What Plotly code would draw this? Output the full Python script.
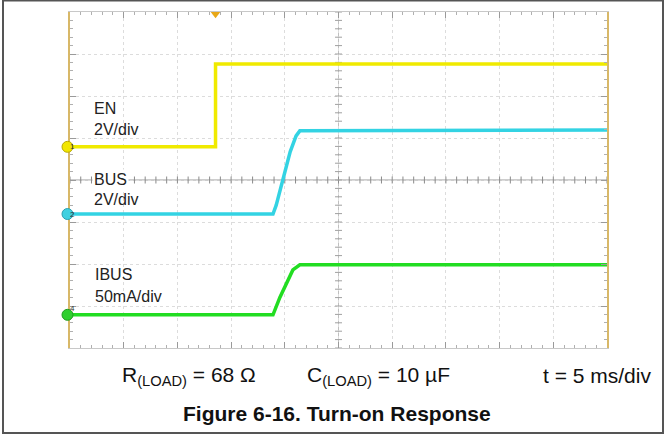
import numpy as np
import plotly.graph_objects as go

# ---- data (time in divisions, 5 ms/div; amplitude in screen divisions) ----
en_t = [0.0, 2.71, 2.71, 10.0]
en_v = [4.79, 4.79, 6.76, 6.76]

bus_t = [0.0, 3.78, 3.84, 3.95, 4.10, 4.21, 4.28, 10.0]
bus_v = [3.19, 3.19, 3.40, 3.95, 4.67, 5.05, 5.17, 5.19]

ibus_t = [0.0, 3.78, 3.91, 4.04, 4.15, 4.28, 10.0]
ibus_v = [0.79, 0.79, 1.21, 1.57, 1.86, 1.98, 1.98]

channel_labels = ["1", "2", "4"]
channel_levels = [4.79, 3.19, 0.79]
channel_colors = ["#f2e600", "#3fd0e0", "#2fcf2f"]
channel_edges = ["#b8a800", "#2a9fb0", "#1f9a1f"]

Y_MIN, Y_MAX = 0, 8

W, H = 665, 434
L, R, T, B = 70, 58, 12, 86
PW, PH = W - L - R, H - T - B

def px_x(px):
    return (px - L) / PW

def px_y(py):
    return (H - B - py) / PH

FONT = "Arial, Liberation Sans, sans-serif"

fig = go.Figure()

# center cross-hair ticks
minor_pos_x = np.round(np.arange(0, 10.001, 0.2), 3)
minor_pos_y = np.round(np.arange(0, 8.001, 0.2), 3)
fig.add_trace(go.Scatter(x=minor_pos_x, y=[4] * len(minor_pos_x), mode="markers",
                         marker=dict(symbol="line-ns-open", size=5, color="#8a8a8a",
                                     line=dict(color="#8a8a8a", width=1)),
                         hoverinfo="skip", showlegend=False))
fig.add_trace(go.Scatter(x=[5] * len(minor_pos_y), y=minor_pos_y, mode="markers",
                         marker=dict(symbol="line-ew-open", size=5, color="#a0a0a0",
                                     line=dict(color="#a0a0a0", width=1)),
                         hoverinfo="skip", showlegend=False))

# waveforms
fig.add_trace(go.Scatter(x=en_t, y=en_v, mode="lines", line=dict(color="#f0ea00", width=3.5),
                         hoverinfo="skip", showlegend=False))
fig.add_trace(go.Scatter(x=bus_t, y=bus_v, mode="lines", line=dict(color="#33d3e3", width=3.5),
                         hoverinfo="skip", showlegend=False))
fig.add_trace(go.Scatter(x=ibus_t, y=ibus_v, mode="lines", line=dict(color="#22dd22", width=3.5),
                         hoverinfo="skip", showlegend=False))

# trigger marker at top
fig.add_trace(go.Scatter(x=[en_t[1]], y=[7.96], mode="markers",
                         marker=dict(symbol="triangle-down", size=9, color="#e8a818"),
                         cliponaxis=False, hoverinfo="skip", showlegend=False))

axis_common = dict(showticklabels=False, zeroline=False, showgrid=True,
                   gridcolor="#dcdcdc", griddash="dot", gridwidth=1,
                   ticks="inside", ticklen=6, tickcolor="#9a9a9a", dtick=1, tick0=0,
                   minor=dict(dtick=0.2, ticks="inside", ticklen=3, tickcolor="#b0b0b0", showgrid=False),
                   fixedrange=True)

fig.update_layout(
    width=W, height=H,
    margin=dict(l=L, r=R, t=T, b=B),
    paper_bgcolor="white", plot_bgcolor="white",
    xaxis=dict(range=[0, 10], showline=True, linecolor="#c8c8c8", linewidth=1, mirror="allticks", **axis_common),
    yaxis=dict(range=[Y_MIN, Y_MAX], showline=True, linecolor="#d8b868", linewidth=2, mirror="allticks", **axis_common),
    font=dict(family=FONT, color="#222"),
)

# center cross lines
fig.add_shape(type="line", x0=0, x1=10, y0=4, y1=4, xref="x", yref="y", line=dict(color="#9a9a9a", width=1), layer="below")
fig.add_shape(type="line", x0=5, x1=5, y0=0, y1=8, xref="x", yref="y", line=dict(color="#c0c0c0", width=1, dash="dot"), layer="below")

# channel markers (circles at left edge)
for lbl, lvl, col, edge in zip(channel_labels, channel_levels, channel_colors, channel_edges):
    yp = (lvl - Y_MIN) / (Y_MAX - Y_MIN)
    fig.add_shape(type="circle", xref="paper", yref="paper", xsizemode="pixel", ysizemode="pixel",
                  xanchor=0, yanchor=yp, x0=-8, x1=3, y0=-5.5, y1=5.5,
                  line=dict(color=edge, width=1), fillcolor=col)
    fig.add_annotation(x=0, y=yp, xref="paper", yref="paper", text=lbl, showarrow=False,
                       xshift=-2.5, font=dict(size=8, color="#333", family=FONT))

# channel labels
def lab(text, px, py, bg=None):
    fig.add_annotation(x=px_x(px), y=px_y(py), xref="paper", yref="paper", text=text,
                       showarrow=False, xanchor="left", yanchor="middle",
                       font=dict(size=16, color="#222", family=FONT),
                       bgcolor=bg, borderpad=1)

lab("EN", 92, 109)
lab("2V/div", 92, 129)
lab("BUS", 92, 179, bg="white")
lab("2V/div", 92, 199)
lab("IBUS", 93, 274)
lab("50mA/div", 93, 296)

# bottom texts
fig.add_annotation(x=px_x(120), y=px_y(376), xref="paper", yref="paper",
                   text="R<sub>(LOAD)</sub> = 68 Ω", showarrow=False, xanchor="left", yanchor="middle",
                   font=dict(size=21, color="#111", family=FONT))
fig.add_annotation(x=px_x(305), y=px_y(376), xref="paper", yref="paper",
                   text="C<sub>(LOAD)</sub> = 10 µF", showarrow=False, xanchor="left", yanchor="middle",
                   font=dict(size=21, color="#111", family=FONT))
fig.add_annotation(x=px_x(653), y=px_y(375), xref="paper", yref="paper",
                   text="t = 5 ms/div", showarrow=False, xanchor="right", yanchor="middle",
                   font=dict(size=21, color="#111", family=FONT))
fig.add_annotation(x=px_x(337), y=px_y(413), xref="paper", yref="paper",
                   text="<b>Figure 6-16. Turn-on Response</b>", showarrow=False, xanchor="center", yanchor="middle",
                   font=dict(size=21, color="#111", family=FONT))

# outer frame
fig.add_shape(type="rect", xref="paper", yref="paper",
              x0=px_x(3), x1=px_x(663), y0=px_y(433), y1=px_y(0.5),
              line=dict(color="#555", width=2), fillcolor="rgba(0,0,0,0)")

fig.write_html("out.html", config={"displayModeBar": False},
               post_script="document.body.style.margin='0';document.body.style.overflow='hidden';")
